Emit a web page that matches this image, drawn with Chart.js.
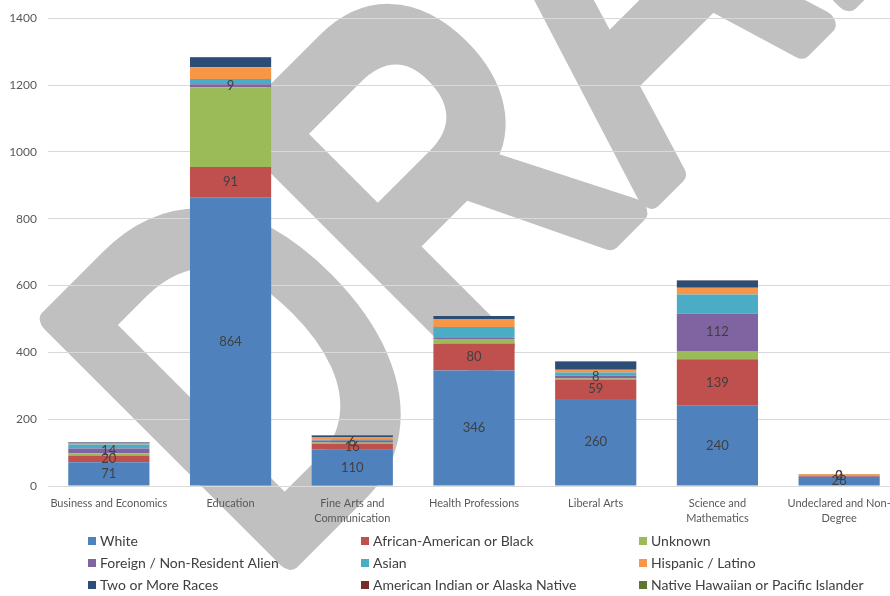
<!DOCTYPE html>
<html>
<head>
<meta charset="utf-8">
<script src="https://cdn.jsdelivr.net/npm/chart.js@4.4.1/dist/chart.umd.min.js"></script>
<style>
html,body{margin:0;padding:0;background:#fff;overflow:hidden;}
#wrap{position:relative;width:905px;height:596px;}
</style>
</head>
<body>
<div id="wrap"><canvas id="c"></canvas></div>
<script>
const categories = [
  'Business and Economics',
  'Education',
  ['Fine Arts and', 'Communication'],
  'Health Professions',
  'Liberal Arts',
  ['Science and', 'Mathematics'],
  ['Undeclared and Non-', 'Degree']
];
const seriesNames = [
  'White', 'African-American or Black', 'Unknown',
  'Foreign / Non-Resident Alien', 'Asian', 'Hispanic / Latino',
  'Two or More Races', 'American Indian or Alaska Native', 'Native Hawaiian or Pacific Islander'
];
const white          = [71, 864, 110, 346, 260, 240, 28];
const black          = [20, 91, 16, 80, 59, 139, 2];
const unknown        = [7, 238, 4, 13, 3, 25, 0];
const foreign        = [14, 9, 6, 5, 8, 112, 0];
const asian          = [12, 16, 3, 32, 10, 57, 0];
const hispanic       = [3, 35, 8, 24, 8, 20, 5];
const twoOrMore      = [3, 30, 4, 9, 24, 22, 1];
const amIndian       = [1, 1, 1, 0, 1, 1, 0];
const nativeHawaiian = [0, 0, 0, 0, 0, 0, 0];
const yTicks = [0, 200, 400, 600, 800, 1000, 1200, 1400];
// which series carry value labels, and which single labels are absent in the original
const labelledSeries = ['White', 'African-American or Black', 'Foreign / Non-Resident Alien'];
const hiddenLabels = [['Foreign / Non-Resident Alien', 'Health Professions']];

const seriesValues = [white, black, unknown, foreign, asian, hispanic, twoOrMore, amIndian, nativeHawaiian];
const colors = ['#4F81BD', '#C0504D', '#9BBB59', '#8064A2', '#4BACC6', '#F79646', '#2C4D75', '#772C2A', '#5F7530'];

const datasets = seriesNames.map((n, i) => ({
  label: n,
  data: seriesValues[i],
  backgroundColor: colors[i],
  borderWidth: 0,
  barPercentage: 0.667,
  categoryPercentage: 1.0
}));

const FONT = 'Lato, "Open Sans", sans-serif';

const watermark = {
  id: 'watermark',
  beforeDraw(chart) {
    const ctx = chart.ctx;
    ctx.save();
    ctx.translate(266, 580);
    ctx.rotate(-Math.PI / 4);
    ctx.scale(0.77, 1);
    ctx.font = '486px "Liberation Sans", Arial, sans-serif';
    ctx.fillStyle = '#c0c0c0';
    ctx.strokeStyle = '#c0c0c0';
    ctx.lineWidth = 26;
    ctx.lineJoin = 'round';
    ctx.textBaseline = 'alphabetic';
    ctx.fillText('DRAFT', 0, 0);
    ctx.strokeText('DRAFT', 0, 0);
    ctx.restore();
  }
};

const catName = c => Array.isArray(c) ? c.join(' ') : c;

const valueLabels = {
  id: 'valueLabels',
  afterDatasetsDraw(chart) {
    const ctx = chart.ctx;
    ctx.save();
    ctx.font = '13px ' + FONT;
    ctx.fillStyle = '#404040';
    ctx.textAlign = 'center';
    ctx.textBaseline = 'middle';
    chart.data.datasets.forEach((ds, di) => {
      if (!labelledSeries.includes(ds.label)) return;
      const meta = chart.getDatasetMeta(di);
      meta.data.forEach((el, i) => {
        const cn = catName(categories[i]);
        if (hiddenLabels.some(h => h[0] === ds.label && cn === h[1])) return;
        ctx.fillText(String(ds.data[i]), el.x, (el.y + el.base) / 2);
      });
    });
    ctx.restore();
  }
};

const legendGrid = {
  id: 'legendGrid',
  afterDraw(chart) {
    const ctx = chart.ctx;
    const colX = [92, 365, 643];
    const rowY = [541, 563, 585];
    ctx.save();
    ctx.font = '14px ' + FONT;
    ctx.textBaseline = 'middle';
    ctx.textAlign = 'left';
    chart.data.datasets.forEach((ds, i) => {
      const x = colX[i % 3], y = rowY[Math.floor(i / 3)];
      ctx.fillStyle = ds.backgroundColor;
      ctx.fillRect(x - 4, y - 4, 8, 8);
      ctx.fillStyle = '#404040';
      ctx.fillText(ds.label, x + 8, y);
    });
    ctx.restore();
  }
};

new Chart(document.getElementById('c'), {
  type: 'bar',
  data: { labels: categories, datasets },
  plugins: [watermark, valueLabels, legendGrid],
  options: {
    responsive: true,
    maintainAspectRatio: false,
    devicePixelRatio: 1,
    animation: false,
    layout: { padding: { top: 16, right: 5, bottom: 66, left: 0 } },
    plugins: { legend: { display: false }, tooltip: { enabled: false } },
    scales: {
      x: {
        stacked: true,
        grid: { display: false },
        border: { display: false },
        ticks: { color: '#595959', font: { family: FONT, size: 11, lineHeight: 1.45 }, maxRotation: 0, autoSkip: false, padding: 1 },
        afterFit(s) { s.height = 44; }
      },
      y: {
        stacked: true,
        min: 0, max: 1400,
        afterBuildTicks(s) { s.ticks = yTicks.map(v => ({ value: v })); },
        grid: { color: '#d9d9d9', drawTicks: false, lineWidth: 1 },
        border: { display: false },
        ticks: { color: '#595959', font: { family: FONT, size: 12 }, padding: 11, callback: v => String(v) },
        afterFit(s) { s.width = 48; }
      }
    }
  }
});
</script>
</body>
</html>
